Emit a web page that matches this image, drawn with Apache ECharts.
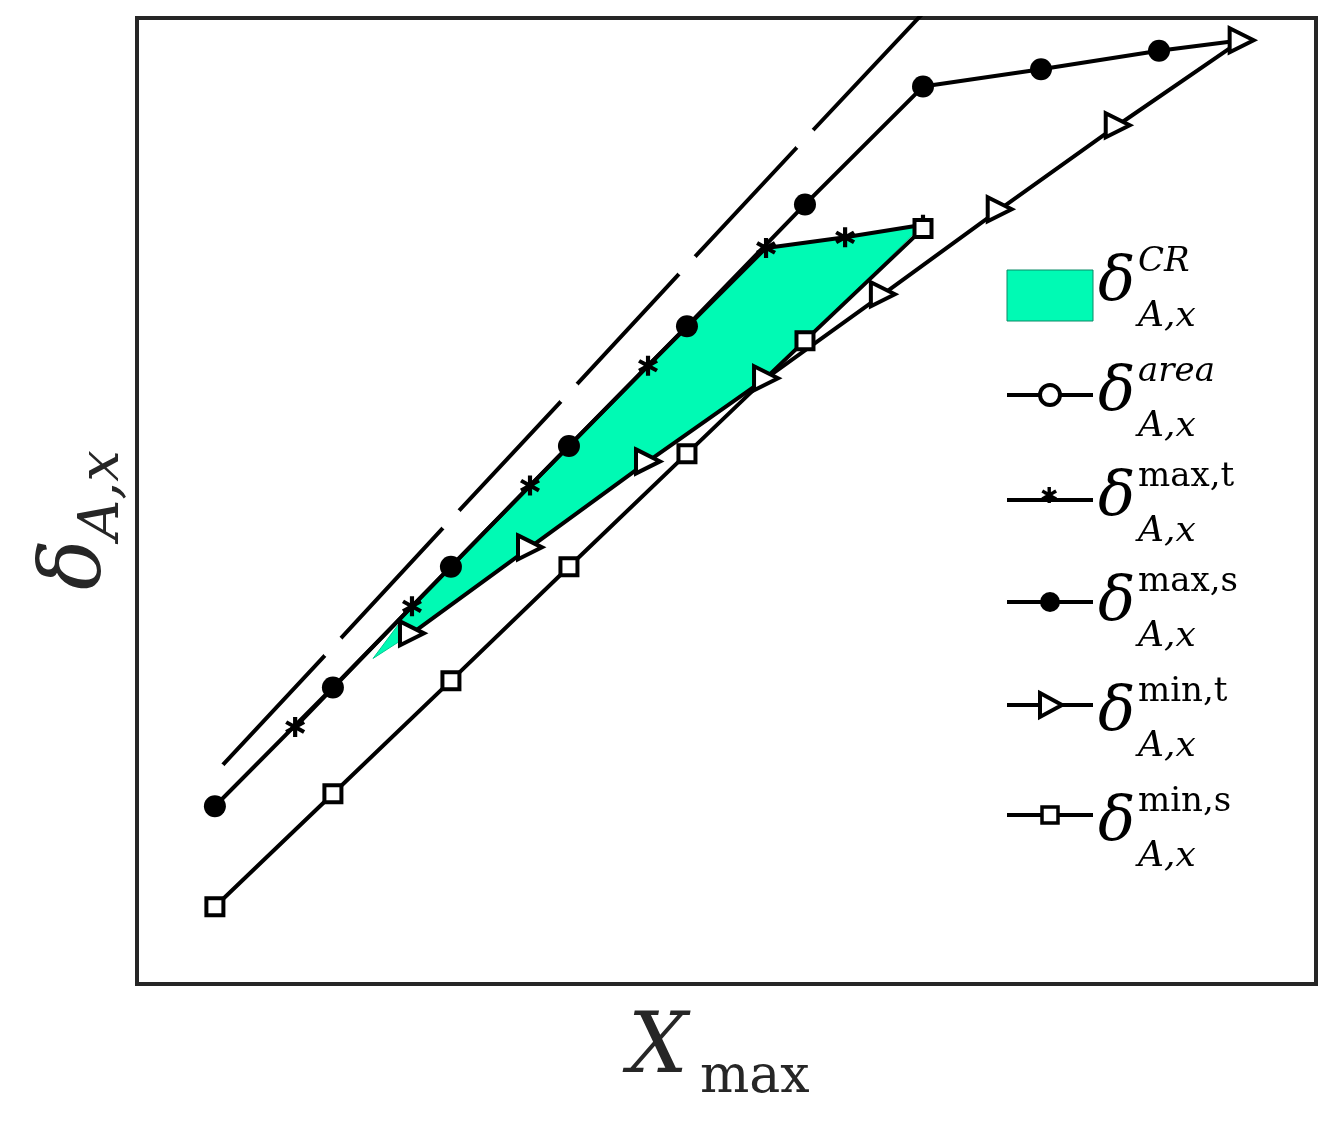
<!DOCTYPE html>
<html>
<head>
<meta charset="UTF-8">
<script src="https://cdn.jsdelivr.net/npm/echarts@6/dist/echarts.min.js"></script>
</head>
<body style="margin:0;background:#fff">
<div id="main" style="width:1335px;height:1124px;"></div>
<script>
// data (arbitrary units)
var areaX = [1, 2, 3, 4, 5, 6, 7];
var areaY = [21.8, 34.9, 48.1, 61.2, 74.4, 87.5, 100.5];
var maxtX = [1.68, 2.67, 3.67, 4.67, 5.67, 6.34, 7];
var maxtY = [26.6, 39.1, 51.6, 64.0, 76.2, 77.3, 78.6];
var maxsX = [1, 2, 3, 4, 5, 6, 7, 8, 9, 9.7];
var maxsY = [18.4, 30.7, 43.2, 55.7, 68.1, 80.7, 92.9, 94.7, 96.6, 97.7];
var mintX = [2.67, 3.67, 4.67, 5.67, 6.66, 7.65, 8.65, 9.7];
var mintY = [36.3, 45.2, 54.1, 62.7, 71.4, 80.2, 88.9, 97.7];
var minsX = [1, 2, 3, 4, 5, 6, 7];
var minsY = [8.0, 19.7, 31.4, 43.2, 54.9, 66.6, 78.2];
// confidence region outline
var crX = [2.34, 2.67, 3.67, 4.67, 5.67, 6.34, 7, 6, 5.67, 4.67, 3.67, 2.67];
var crY = [33.7, 39.1, 51.6, 64.0, 76.2, 77.3, 78.6, 66.6, 62.7, 54.1, 45.2, 36.3];

function pts(xs, ys) { return xs.map(function (x, i) { return [x, ys[i]]; }); }

var asterisk = 'path://M4,0h2v3.3l2.8-1.6l1,1.7L7,5l2.8,1.6l-1,1.7L6,6.7V10H4V6.7L1.2,8.3l-1-1.7L3,5L0.2,3.4l1-1.7L4,3.3Z';
var triR = 'path://M0,0L10,5L0,10Z';
var ink = '#000';

function lineSeries(name, data, symbol, size, filled) {
    return {
        name: name, type: 'line', data: data, symbol: symbol, symbolSize: size,
        showAllSymbol: true, clip: true,
        lineStyle: { color: ink, width: 4 },
        itemStyle: { color: filled ? ink : '#fff', borderColor: ink, borderWidth: filled ? 0 : 4 },
        z: 3
    };
}

var areaData = pts(areaX, areaY);
areaData[areaData.length - 1] = { value: areaData[areaData.length - 1], symbolSize: 0 };
var maxsData = pts(maxsX, maxsY);
maxsData[maxsData.length - 1] = { value: maxsData[maxsData.length - 1], symbolSize: 0 };

var myChart = echarts.init(document.getElementById('main'));
var serif = '"DejaVu Serif", "Liberation Serif", serif';

function legendLabel(y, sup, supItalic) {
    return [
        { type: 'text', left: 1098, top: y - 42, style: { text: 'δ', font: 'italic 62px ' + serif, fill: ink } },
        { type: 'text', left: 1138, top: y - 50, style: { text: sup, font: (supItalic ? 'italic ' : '') + '34px ' + serif, fill: ink } },
        { type: 'text', left: 1138, top: y + 4, style: { text: 'A,x', font: 'italic 36px ' + serif, fill: ink } }
    ];
}
function legendLine(y) {
    return { type: 'line', shape: { x1: 1007, y1: y, x2: 1093, y2: y }, style: { stroke: ink, lineWidth: 4 } };
}

var graphics = [
    { type: 'rect', shape: { x: 1007, y: 270, width: 86, height: 51 }, style: { fill: '#00FAB4', stroke: '#0a8a66', lineWidth: 1 } },
    legendLine(395), { type: 'circle', shape: { cx: 1050, cy: 395, r: 10 }, style: { fill: '#fff', stroke: ink, lineWidth: 4 } },
    legendLine(500), { type: 'text', left: 1040, top: 486, style: { text: '✱', font: '22px "DejaVu Sans"', fill: ink } },
    legendLine(602), { type: 'circle', shape: { cx: 1050, cy: 602, r: 10 }, style: { fill: ink } },
    legendLine(705), { type: 'polygon', shape: { points: [[1040, 693], [1062, 705], [1040, 717]] }, style: { fill: '#fff', stroke: ink, lineWidth: 4 } },
    legendLine(815), { type: 'rect', shape: { x: 1042, y: 807, width: 16, height: 16 }, style: { fill: '#fff', stroke: ink, lineWidth: 3.5 } },
    { type: 'text', left: 628, top: 1008, style: { text: 'X', font: 'italic 84px ' + serif, fill: '#262626' } },
    { type: 'text', left: 700, top: 1052, style: { text: 'max', font: '52px ' + serif, fill: '#262626' } },
    { type: 'group', x: 95, y: 500, rotation: Math.PI / 2, children: [
        { type: 'text', x: -90, y: -60, style: { text: 'δ', font: 'italic 84px ' + serif, fill: '#262626' } },
        { type: 'text', x: -40, y: -20, style: { text: 'A,x', font: 'italic 56px ' + serif, fill: '#262626' } }
    ] }
];
graphics = graphics.concat(legendLabel(295, 'CR', true), legendLabel(405, 'area', true),
    legendLabel(510, 'max,t', false), legendLabel(615, 'max,s', false),
    legendLabel(725, 'min,t', false), legendLabel(835, 'min,s', false));

var option = {
    animation: false,
    grid: { left: 137, top: 18, right: 19, bottom: 140, show: true, borderColor: '#262626', borderWidth: 4 },
    xAxis: { type: 'value', min: 0.34, max: 10.33, show: false },
    yAxis: { type: 'value', min: 0, max: 100, show: false },
    graphic: graphics,
    series: [
        {
            type: 'custom', z: 1,
            data: [0],
            renderItem: function (params, api) {
                var p = crX.map(function (x, i) { return api.coord([x, crY[i]]); });
                return { type: 'polygon', shape: { points: p }, style: { fill: '#00FAB4', stroke: '#00c890', lineWidth: 1 } };
            }
        },
        lineSeries('area', areaData, 'emptyCircle', 22, false),
        lineSeries('max,t', pts(maxtX, maxtY), asterisk, 20, true),
        lineSeries('max,s', maxsData, 'circle', 22, true),
        lineSeries('min,t', pts(mintX, mintY), triR, 24, false),
        lineSeries('min,s', pts(minsX, minsY), 'rect', 17, false)
    ]
};
myChart.setOption(option);
</script>
</body>
</html>
